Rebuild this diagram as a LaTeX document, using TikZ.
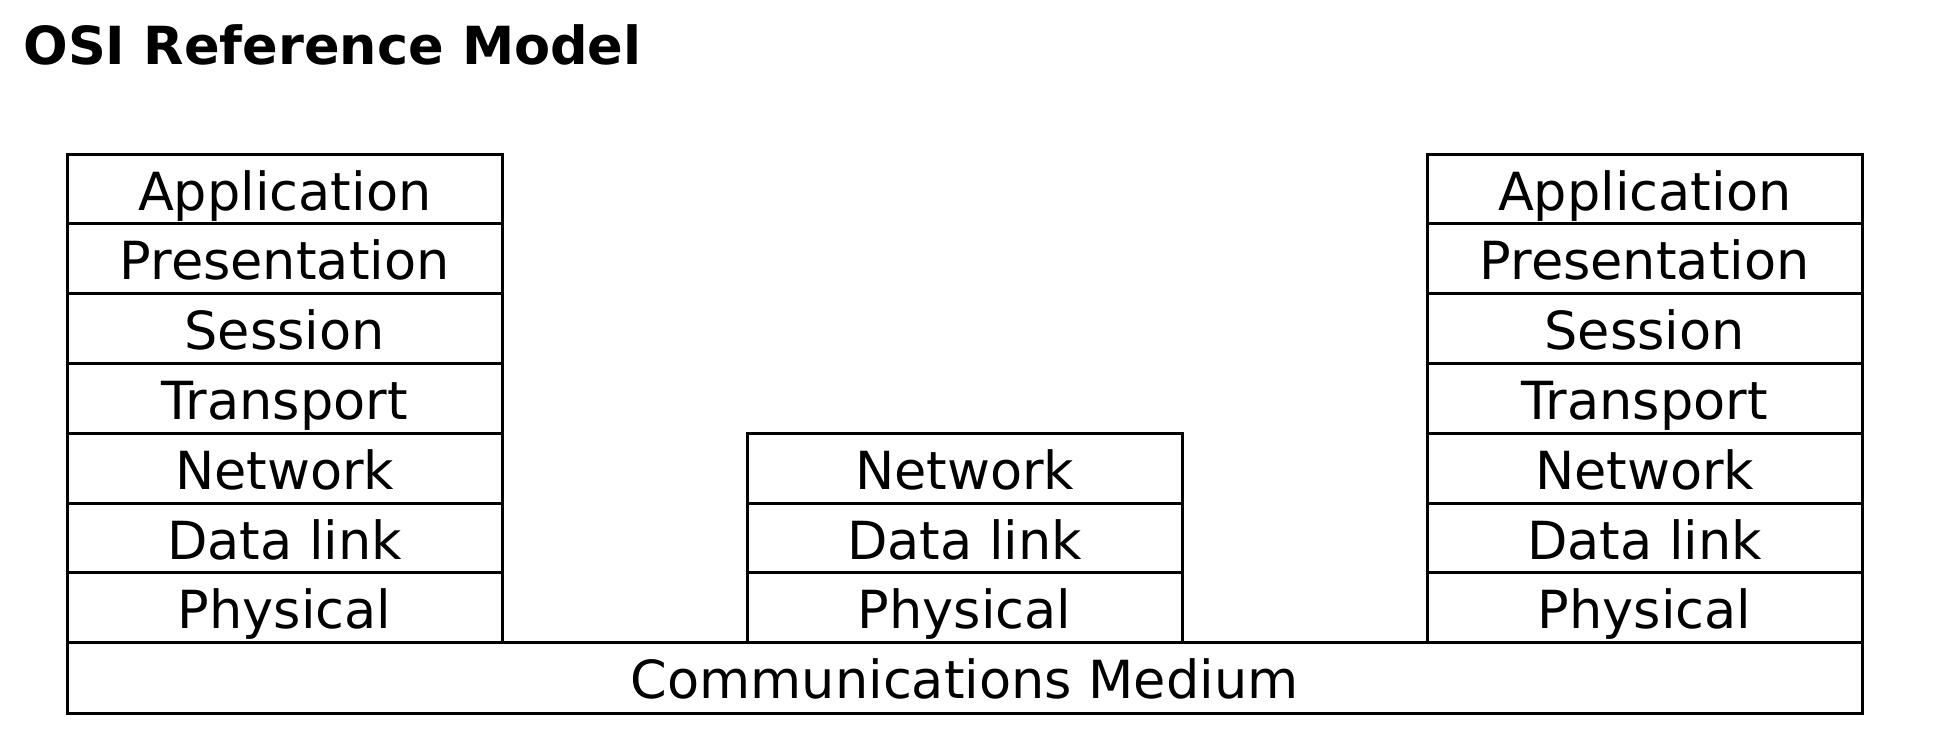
\documentclass[tikz,border=0pt]{standalone}
\usepackage{fontspec}
\setmainfont{DejaVu Sans}
\begin{document}
\begin{tikzpicture}[x=0.4pt,y=-0.4pt,
  layer/.style={draw=black,line width=1.2pt,rectangle,inner sep=0pt,
    minimum width=173.9pt,text height=22.4pt,text depth=5.52pt,
    font=\fontsize{21}{25}\selectfont},
  medium/.style={layer,minimum width=717.9pt,text depth=6pt},
  titletext/.style={inner sep=0pt,anchor=base west,font=\fontsize{21}{25}\bfseries\selectfont}]
\useasboundingbox (0,0) rectangle (1940,748);
\node[titletext] (title) at (23,64) {OSI Reference Model};
% left stack
\node[layer] (la) at (284.7,188.9) {Application};
\node[layer] (lp) at (284.7,258.7) {Presentation};
\node[layer] (ls) at (284.7,328.5) {Session};
\node[layer] (lt) at (284.7,398.3) {Transport};
\node[layer] (ln) at (284.7,468.1) {Network};
\node[layer] (ld) at (284.7,537.9) {Data link};
\node[layer] (lph) at (284.7,607.7) {Physical};
% middle stack
\node[layer] (mn) at (964.7,468.1) {Network};
\node[layer] (md) at (964.7,537.9) {Data link};
\node[layer] (mph) at (964.7,607.7) {Physical};
% right stack
\node[layer] (ra) at (1644.7,188.9) {Application};
\node[layer] (rp) at (1644.7,258.7) {Presentation};
\node[layer] (rs) at (1644.7,328.5) {Session};
\node[layer] (rt) at (1644.7,398.3) {Transport};
\node[layer] (rn) at (1644.7,468.1) {Network};
\node[layer] (rd) at (1644.7,537.9) {Data link};
\node[layer] (rph) at (1644.7,607.7) {Physical};
% medium
\node[medium] (med) at (964.7,678.3) {Communications Medium};
\end{tikzpicture}
\end{document}
